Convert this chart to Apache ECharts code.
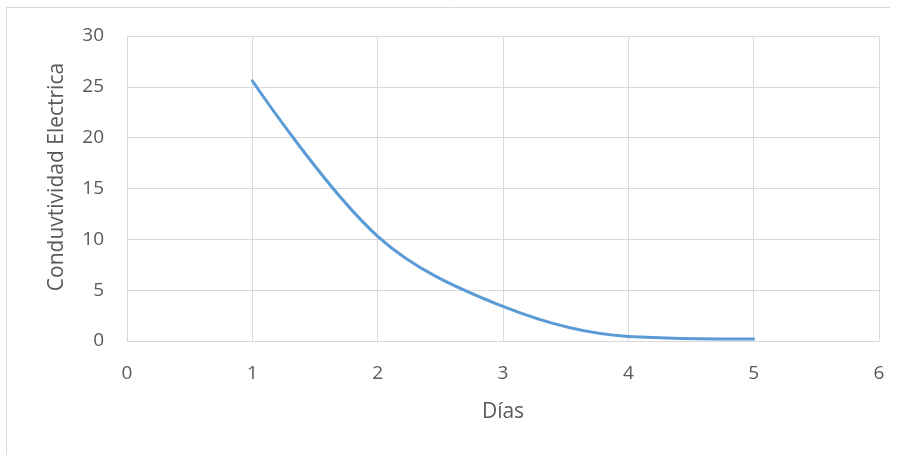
<!DOCTYPE html>
<html>
<head>
<meta charset="utf-8">
<script src="https://cdn.jsdelivr.net/npm/echarts@6/dist/echarts.min.js"></script>
<style>
  html, body { margin: 0; padding: 0; background: #fff; }
  #chart { width: 900px; height: 455px; }
</style>
</head>
<body>
<div id="chart"></div>
<script>
// Days of measurement and electrical conductivity readings
const dias = [1, 2, 3, 4, 5];
const conductividad = [25.6, 10.3, 3.4, 0.45, 0.2];
const xTicks = [0, 1, 2, 3, 4, 5, 6];
const yTicks = [0, 5, 10, 15, 20, 25, 30];
const xTitle = 'Días';
const yTitle = 'Conduvtividad Electrica';

const textColor = '#595959';
const gridColor = '#d9d9d9';
const fontFamily = 'Open Sans, Noto Sans, sans-serif';

const chart = echarts.init(document.getElementById('chart'), null, { renderer: 'canvas' });

chart.setOption({
  animation: false,
  backgroundColor: '#fff',
  graphic: [
    // frame of the chart area (left and top edges)
    {
      type: 'polyline',
      shape: { points: [[6.5, 455], [6.5, 7.5], [890, 7.5]] },
      style: { fill: 'none', stroke: gridColor, lineWidth: 1 },
      silent: true
    },
    // vertical axis title, centred on the chart area
    {
      type: 'text',
      x: 57,
      y: 177,
      rotation: Math.PI / 2,
      style: {
        text: yTitle,
        fill: textColor,
        font: '21px ' + fontFamily,
        align: 'center',
        verticalAlign: 'middle'
      },
      silent: true
    }
  ],
  grid: { left: 127, right: 21, top: 36, bottom: 114, containLabel: false },
  xAxis: {
    type: 'value',
    min: xTicks[0],
    max: xTicks[xTicks.length - 1],
    interval: 1,
    name: xTitle,
    nameLocation: 'middle',
    nameGap: 61,
    nameTextStyle: { color: textColor, fontSize: 21, fontFamily },
    axisLine: { show: true, lineStyle: { color: gridColor, width: 1 } },
    axisTick: { show: false },
    axisLabel: { color: textColor, fontSize: 19, fontFamily, margin: 23 },
    splitLine: { show: true, lineStyle: { color: gridColor, width: 1 } }
  },
  yAxis: {
    type: 'value',
    min: yTicks[0],
    max: yTicks[yTicks.length - 1],
    interval: 5,
    axisLine: { show: false },
    axisTick: { show: false },
    axisLabel: { color: textColor, fontSize: 19, fontFamily, margin: 23 },
    splitLine: { show: true, lineStyle: { color: gridColor, width: 1 } }
  },
  series: [{
    type: 'line',
    data: dias.map((d, i) => [d, conductividad[i]]),
    smooth: 0.35,
    showSymbol: false,
    lineStyle: { color: '#5b9bd5', width: 3, cap: 'round' },
    itemStyle: { color: '#5b9bd5' }
  }]
});
</script>
</body>
</html>
